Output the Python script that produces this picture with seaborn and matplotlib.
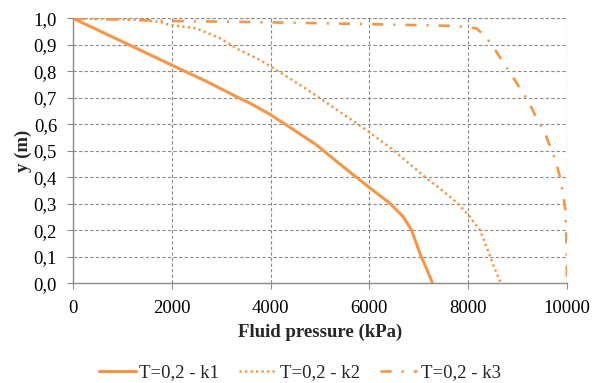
import matplotlib
matplotlib.use("Agg")
import matplotlib.pyplot as plt
import seaborn as sns
import pandas as pd

# Data
k1_x = [0, 1000, 1993, 2700, 3377, 3600, 3984, 4389, 4930, 5469, 5975, 6415, 6684, 6854, 7023, 7150, 7280]
k1_y = [1.0, 0.912, 0.824, 0.762, 0.698, 0.678, 0.638, 0.589, 0.522, 0.44, 0.365, 0.302, 0.251, 0.201, 0.113, 0.058, 0.0]

k2_x = [0, 700, 1350, 1756, 1959, 2500, 2972, 3377, 3782, 4120, 4760, 5943, 6482, 7158, 7428, 7630, 7833, 8001, 8238, 8373, 8507, 8663]
k2_y = [1.0, 0.998, 0.994, 0.987, 0.975, 0.962, 0.925, 0.88, 0.843, 0.805, 0.729, 0.578, 0.503, 0.396, 0.358, 0.327, 0.293, 0.258, 0.201, 0.138, 0.069, 0.0]

k3_x = [0, 1000, 2000, 4000, 6000, 7600, 7934, 8170, 8305, 8474, 8677, 8845, 9048, 9216, 9386, 9534, 9690, 9777, 9872, 9925, 9966, 9980, 9994, 10000]
k3_y = [1.0, 0.995, 0.99, 0.985, 0.978, 0.972, 0.968, 0.962, 0.94, 0.902, 0.843, 0.796, 0.736, 0.688, 0.623, 0.576, 0.503, 0.459, 0.39, 0.333, 0.277, 0.208, 0.133, 0.0]

labels = ["T=0,2 - k1", "T=0,2 - k2", "T=0,2 - k3"]
x_ticks = [0, 2000, 4000, 6000, 8000, 10000]
y_ticks = [0.0, 0.1, 0.2, 0.3, 0.4, 0.5, 0.6, 0.7, 0.8, 0.9, 1.0]

sns.set_style("white")
plt.rcParams['font.family'] = ['Liberation Serif', 'DejaVu Serif']

color = "#F79646"
grid_c = "#8C8C8C"
fs = 13.5

fig = plt.figure(figsize=(5.93, 3.83), dpi=100)
ax = fig.add_axes([0.1231, 0.2603, 0.8330, 0.6918])

series = [(k1_x, k1_y, dict(linestyle='-', linewidth=2.2)),
          (k2_x, k2_y, dict(linestyle=(0, (0.9, 1.3)), linewidth=1.8)),
          (k3_x, k3_y, dict(linestyle=(0, (4.2, 3.8, 0.8, 3.8)), linewidth=1.9))]

for (xs, ys, st), lab in zip(series, labels):
    df = pd.DataFrame({"p": xs, "y": ys})
    sns.lineplot(data=df, x="p", y="y", ax=ax, sort=False, estimator=None,
                 color=color, label=lab, **st)

ax.set_xlim(0, 10000)
ax.set_ylim(0, 1.0)
ax.set_xticks(x_ticks)
ax.set_xticklabels([str(t) for t in x_ticks])
ax.set_yticks(y_ticks)
ax.set_yticklabels([f"{t:.1f}".replace('.', ',') for t in y_ticks])

ax.grid(True, linestyle=(0, (3, 2)), color=grid_c, linewidth=0.8)
ax.set_axisbelow(True)
for s in ['top', 'right']:
    ax.spines[s].set_visible(False)
for s in ['left', 'bottom']:
    ax.spines[s].set_color(grid_c)
    ax.spines[s].set_linewidth(1.0)

ax.axhline(1.0, color=grid_c, linestyle=(0, (3, 2)), linewidth=0.8, zorder=0)
ax.axvline(10000, color=grid_c, linestyle=(0, (3, 2)), linewidth=0.8, zorder=0)

ax.tick_params(axis='both', which='major', direction='out', length=4.3, width=0.8,
               color=grid_c, labelsize=fs, labelcolor='black',
               bottom=True, left=True)
ax.tick_params(axis='y', pad=7.2)
ax.tick_params(axis='x', pad=7.5)

ax.set_xlabel("Fluid pressure (kPa)", fontsize=fs, fontweight='bold', labelpad=5)
ax.set_ylabel("y (m)", fontsize=fs, fontweight='bold', labelpad=1.5)

leg = ax.legend(loc='center', bbox_to_anchor=(0.459, -0.338), ncol=3,
                frameon=False, fontsize=fs, handlelength=1.97, columnspacing=1.07,
                handletextpad=0.2)

fig.savefig("out.png", dpi=100)
